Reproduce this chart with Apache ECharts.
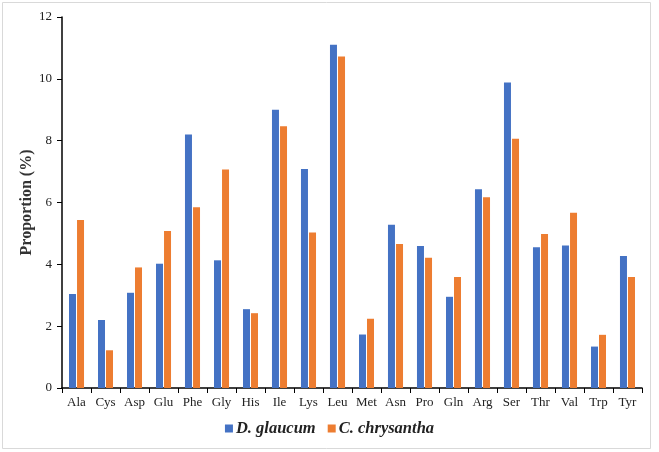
<!DOCTYPE html>
<html>
<head>
<meta charset="utf-8">
<script src="https://cdn.jsdelivr.net/npm/echarts@6/dist/echarts.min.js"></script>
<style>
html,body{margin:0;padding:0;background:#fff;}
#c{width:659px;height:452px;}
</style>
</head>
<body>
<div id="c"></div>
<script>
const categories = ['Ala','Cys','Asp','Glu','Phe','Gly','His','Ile','Lys','Leu','Met','Asn','Pro','Gln','Arg','Ser','Thr','Val','Trp','Tyr'];
const dGlaucum = [3.04,2.20,3.08,4.02,8.20,4.13,2.55,9.00,7.08,11.10,1.73,5.28,4.59,2.95,6.43,9.88,4.55,4.61,1.34,4.27];
const cChrysantha = [5.43,1.22,3.90,5.08,5.85,7.07,2.42,8.47,5.03,10.72,2.24,4.66,4.21,3.59,6.17,8.06,4.98,5.67,1.72,3.59];
const seriesNames = ['D. glaucum','C. chrysantha'];
const yTicks = {min:0, max:12, interval:2};

const serif = '"Liberation Serif","Times New Roman",serif';
const chart = echarts.init(document.getElementById('c'), null, {renderer:'canvas'});
chart.setOption({
  animation:false,
  backgroundColor:'#fff',
  graphic:[{type:'rect', shape:{x:2.5,y:2.5,width:648,height:446}, style:{fill:null, stroke:'#d9d9d9', lineWidth:1}, silent:true}],
  grid:{left:62, right:17, top:17, bottom:64, containLabel:false},
  legend:{
    bottom:10, left:'center', itemWidth:8, itemHeight:8, itemGap:12,
    icon:'rect',
    textStyle:{fontFamily:serif, fontSize:16.5, fontWeight:'bold', fontStyle:'italic', color:'#222', padding:[0,0,0,-2]},
    data:seriesNames
  },
  xAxis:{
    type:'category', data:categories,
    axisLine:{lineStyle:{color:'#000', width:1.5}},
    axisTick:{show:true, alignWithLabel:false, length:5, lineStyle:{color:'#000'}},
    axisLabel:{fontFamily:serif, fontSize:13, color:'#222', margin:8, interval:0}
  },
  yAxis:{
    type:'value', min:yTicks.min, max:yTicks.max, interval:yTicks.interval,
    name:'Proportion (%)', nameLocation:'middle', nameGap:27, nameMoveOverlap:false,
    nameTextStyle:{fontFamily:serif, fontSize:16, fontWeight:'bold', color:'#333'},
    axisLine:{show:true, lineStyle:{color:'#000', width:1.5}},
    axisTick:{show:true, length:5, lineStyle:{color:'#000'}},
    splitLine:{show:false},
    axisLabel:{fontFamily:serif, fontSize:13, color:'#222', margin:10}
  },
  series:[
    {name:seriesNames[0], type:'bar', data:dGlaucum, barWidth:7, barGap:'15%', itemStyle:{color:'#4472C4'}},
    {name:seriesNames[1], type:'bar', data:cChrysantha, barWidth:7, barGap:'15%', itemStyle:{color:'#ED7D31'}}
  ]
});
</script>
</body>
</html>
